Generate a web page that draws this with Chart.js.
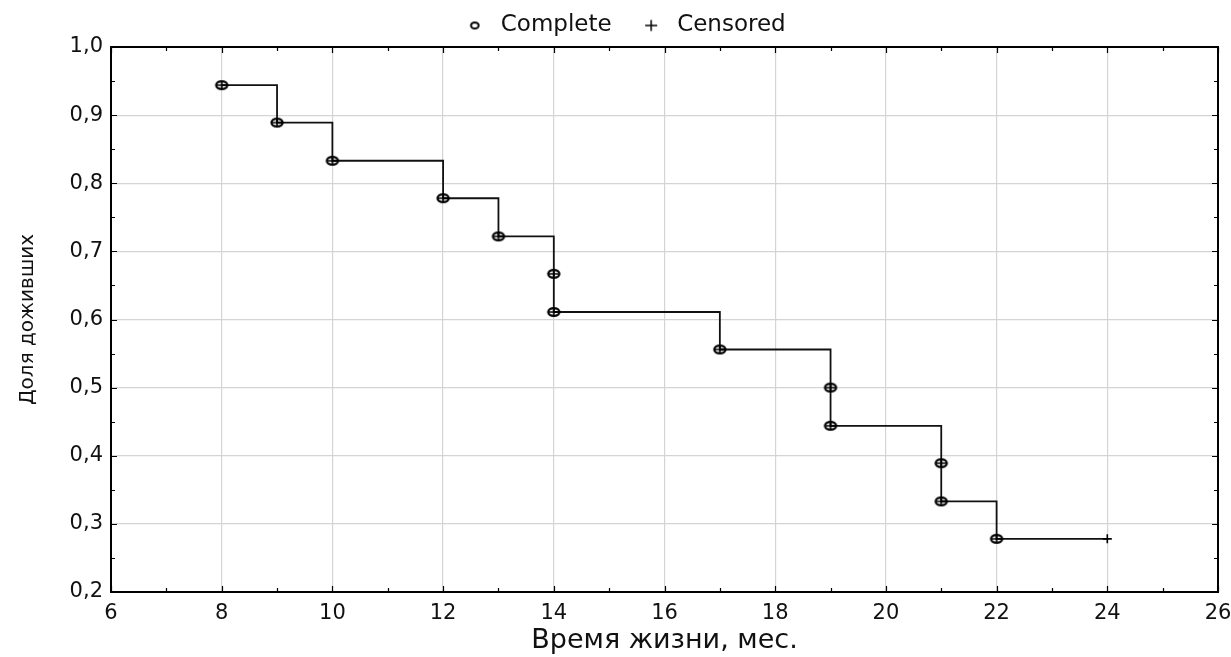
<!DOCTYPE html>
<html><head><meta charset="utf-8">
<script src="https://cdn.jsdelivr.net/npm/chart.js@4/dist/chart.umd.min.js"></script>
<style>html,body{margin:0;padding:0;background:#fff;} canvas{display:block;}</style>
</head><body>
<canvas id="c" width="1231" height="657"></canvas>
<script>
// ---- data ----
const completeTimes = [8, 9, 10, 12, 13, 14, 14, 17, 19, 19, 21, 21, 22];
const completeSurvival = [0.944, 0.889, 0.833, 0.778, 0.722, 0.667, 0.611, 0.556, 0.5, 0.444, 0.389, 0.333, 0.278];
const censoredTimes = [24];
const censoredSurvival = [0.278];
const xTickValues = [6, 8, 10, 12, 14, 16, 18, 20, 22, 24, 26];
const yTickValues = [0.2, 0.3, 0.4, 0.5, 0.6, 0.7, 0.8, 0.9, 1.0];
const legendLabels = ['Complete', 'Censored'];
const xTitle = 'Время жизни, мес.';
const yTitle = 'Доля доживших';

const FONT = "'DejaVu Sans', 'Liberation Sans', Arial, sans-serif";
const TXT = '#111';

function markerImg() {
  const c = document.createElement('canvas'); c.width = 16; c.height = 12;
  const g = c.getContext('2d');
  g.strokeStyle = '#000'; g.lineWidth = 2.2;
  g.beginPath(); g.ellipse(8, 6, 5.6, 3.9, 0, 0, Math.PI * 2); g.stroke();
  g.lineWidth = 1.6;
  g.beginPath(); g.moveTo(8, 2); g.lineTo(8, 10); g.moveTo(2.5, 6); g.lineTo(13.5, 6); g.stroke();
  return c;
}
function legendCircle() {
  const c = document.createElement('canvas'); c.width = 12; c.height = 10;
  const g = c.getContext('2d');
  g.strokeStyle = '#000'; g.lineWidth = 2;
  g.beginPath(); g.ellipse(6, 5, 3.8, 3, 0, 0, Math.PI * 2); g.stroke();
  return c;
}
function legendPlus() {
  const c = document.createElement('canvas'); c.width = 16; c.height = 14;
  const g = c.getContext('2d');
  g.strokeStyle = '#000'; g.lineWidth = 1.5;
  g.beginPath(); g.moveTo(2, 7); g.lineTo(14, 7); g.moveTo(8, 1.5); g.lineTo(8, 12.5); g.stroke();
  return c;
}
const legendImgs = [legendCircle(), legendPlus()];

const completePts = completeTimes.map((x, i) => ({x: x, y: completeSurvival[i]}));
const censoredPts = censoredTimes.map((x, i) => ({x: x, y: censoredSurvival[i]}));
const curvePts = completePts.concat(censoredPts).sort((a, b) => a.x - b.x);

function mids(arr) { const r = []; for (let i = 0; i < arr.length - 1; i++) r.push((arr[i] + arr[i + 1]) / 2); return r; }

const frameTicks = {
  id: 'frameTicks',
  beforeUpdate(chart) {
    const lg = chart.legend;
    if (lg && !lg._wrapped) {
      const orig = lg.fit;
      lg.fit = function () { orig.call(this); this.height = 58; };
      lg._wrapped = true;
    }
  },
  afterLayout(chart) {
    const lg = chart.legend;
    if (lg) { lg.left += 14; lg.right += 14; }
  },
  afterDraw(chart) {
    const {ctx, chartArea: a, scales: {x, y}} = chart;
    ctx.save();
    ctx.strokeStyle = '#000';
    ctx.lineWidth = 1.2;
    const MAJ = 6, MIN = 4;
    ctx.beginPath();
    xTickValues.forEach(v => { const p = Math.round(x.getPixelForValue(v)) + 0.5; ctx.moveTo(p, a.bottom); ctx.lineTo(p, a.bottom - MAJ); ctx.moveTo(p, a.top); ctx.lineTo(p, a.top + MAJ); });
    mids(xTickValues).forEach(v => { const p = Math.round(x.getPixelForValue(v)) + 0.5; ctx.moveTo(p, a.bottom); ctx.lineTo(p, a.bottom - MIN); ctx.moveTo(p, a.top); ctx.lineTo(p, a.top + MIN); });
    yTickValues.forEach(v => { const p = Math.round(y.getPixelForValue(v)) + 0.5; ctx.moveTo(a.left, p); ctx.lineTo(a.left + MAJ, p); ctx.moveTo(a.right, p); ctx.lineTo(a.right - MAJ, p); });
    mids(yTickValues).forEach(v => { const p = Math.round(y.getPixelForValue(v)) + 0.5; ctx.moveTo(a.left, p); ctx.lineTo(a.left + MIN, p); ctx.moveTo(a.right, p); ctx.lineTo(a.right - MIN, p); });
    ctx.stroke();
    ctx.lineWidth = 2;
    ctx.strokeRect(a.left, a.top, a.right - a.left, a.bottom - a.top);
    ctx.restore();
  }
};

new Chart(document.getElementById('c'), {
  type: 'scatter',
  data: {
    datasets: [
      {label: 'Complete', data: completePts, pointStyle: markerImg(), pointRadius: 6, pointHoverRadius: 6, showLine: false, borderColor: '#000', backgroundColor: '#000'},
      {label: 'Censored', data: censoredPts, pointStyle: 'cross', pointRadius: 4.5, pointHoverRadius: 4.5, borderColor: '#000', pointBorderWidth: 1.6, showLine: false},
      {label: 'curve', data: curvePts, showLine: true, stepped: 'before', pointRadius: 0, pointHoverRadius: 0, borderColor: '#111', borderWidth: 1.8, fill: false}
    ]
  },
  options: {
    responsive: false,
    devicePixelRatio: 1,
    animation: false,
    events: [],
    layout: {padding: {top: -11, left: 0, right: 13, bottom: 0}},
    plugins: {
      tooltip: {enabled: false},
      legend: {
        display: true,
        position: 'top',
        labels: {
          usePointStyle: true,
          pointStyleWidth: 29,
          padding: 25,
          color: TXT,
          font: {family: FONT, size: 23},
          generateLabels: () => legendLabels.map((t, i) => ({text: t, pointStyle: legendImgs[i], datasetIndex: i, fillStyle: '#000', strokeStyle: '#000', lineWidth: 0, hidden: false, fontColor: TXT}))
        }
      }
    },
    scales: {
      x: {
        type: 'linear', min: 6, max: 26,
        afterBuildTicks: s => { s.ticks = xTickValues.map(v => ({value: v})); },
        afterFit: s => { s.height = 65; s.paddingLeft = 0; s.paddingRight = 0; },
        ticks: {color: TXT, font: {family: FONT, size: 21}, padding: 9, maxRotation: 0, autoSkip: false},
        grid: {color: '#d4d4d4', lineWidth: 1.2, drawTicks: false},
        border: {display: false},
        title: {display: true, text: xTitle, color: TXT, font: {family: FONT, size: 27}, padding: {top: 0, bottom: 0}}
      },
      y: {
        type: 'linear', min: 0.2, max: 1.0,
        afterBuildTicks: s => { s.ticks = yTickValues.map(v => ({value: v})); },
        afterFit: s => { s.width = 111; s.paddingTop = 0; s.paddingBottom = 0; },
        ticks: {color: TXT, font: {family: FONT, size: 21}, padding: 8, autoSkip: false, callback: v => v.toFixed(1).replace('.', ',')},
        grid: {color: '#d4d4d4', lineWidth: 1.2, drawTicks: false},
        border: {display: false},
        title: {display: true, text: yTitle, color: TXT, font: {family: FONT, size: 20}, padding: {top: 16, bottom: 0}}
      }
    }
  },
  plugins: [frameTicks]
});
</script>
</body></html>
